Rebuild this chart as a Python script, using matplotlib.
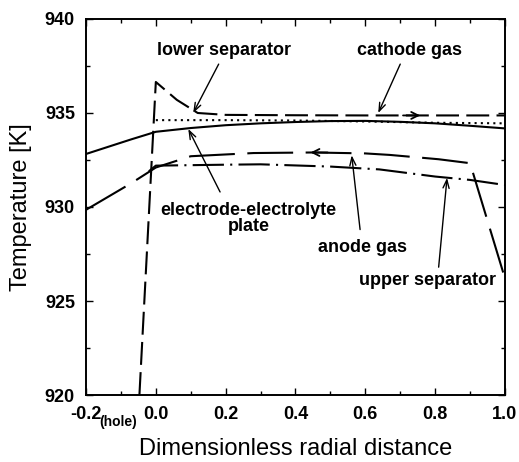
#!/usr/bin/env python3
"""Radial temperature profiles in the cell (layers and gas streams)."""

import matplotlib
matplotlib.use("Agg")
import matplotlib.pyplot as plt
from matplotlib.ticker import MultipleLocator

plt.rcParams["font.family"] = ["Liberation Sans", "DejaVu Sans"]

# --- data ------------------------------------------------------------------
cathode_x = [-0.047, 0.0, 0.06, 0.12, 0.2, 0.4, 0.6, 0.8, 1.0]
cathode_T = [920.0, 936.65, 935.7, 935.0, 934.9, 934.88, 934.87, 934.87, 934.87]

lower_sep_x = [0.0, 0.2, 0.4, 0.6, 0.8, 1.0]
lower_sep_T = [934.62, 934.62, 934.6, 934.55, 934.48, 934.45]

plate_x = [-0.2, -0.07, 0.0, 0.1, 0.2, 0.3, 0.4, 0.5, 0.6, 0.7, 0.8, 0.9, 1.0]
plate_T = [932.82, 933.6, 934.0, 934.2, 934.35, 934.45, 934.52, 934.57, 934.58,
           934.53, 934.45, 934.32, 934.18]

anode_x = [-0.2, -0.07, 0.0, 0.1, 0.28, 0.45, 0.6, 0.67, 0.81, 0.9, 1.0]
anode_T = [929.85, 931.27, 932.1, 932.7, 932.87, 932.9, 932.85, 932.77, 932.54,
           932.33, 926.2]

upper_sep_x = [-0.02, 0.0, 0.2, 0.3, 0.5, 0.64, 0.8, 0.9, 1.0]
upper_sep_T = [931.9, 932.2, 932.25, 932.27, 932.15, 932.0, 931.62, 931.44, 931.17]

x_ticks = [-0.2, 0.0, 0.2, 0.4, 0.6, 0.8, 1.0]
x_tick_labels = ["-0.2", "0.0", "0.2", "0.4", "0.6", "0.8", "1.0"]
y_ticks = [920, 925, 930, 935, 940]


def main():
    fig = plt.figure(figsize=(5.19, 4.62), dpi=100)
    ax = fig.add_axes([0.1657, 0.145, 0.8073, 0.8139])

    lw = 1.5
    ax.plot(cathode_x, cathode_T, color="black", lw=lw, dashes=(11, 3.5))
    ax.plot(lower_sep_x, lower_sep_T, color="black", lw=lw, dashes=(1, 2))
    ax.plot(plate_x, plate_T, color="black", lw=lw)
    ax.plot(anode_x, anode_T, color="black", lw=lw, dashes=(22, 6))
    ax.plot(upper_sep_x, upper_sep_T, color="black", lw=lw,
            dashes=(15, 3, 1, 3))

    # flow direction marks on the gas streams
    ax.annotate("", xy=(0.765, 934.87), xytext=(0.70, 934.87),
                arrowprops=dict(arrowstyle="->,head_length=0.5,head_width=0.25",
                                lw=1.3, color="black"))
    ax.annotate("", xy=(0.435, 932.9), xytext=(0.50, 932.9),
                arrowprops=dict(arrowstyle="->,head_length=0.5,head_width=0.25",
                                lw=1.3, color="black"))

    arrow = dict(arrowstyle="->,head_length=0.6,head_width=0.22",
                 lw=1.0, color="black", shrinkA=0, shrinkB=0)
    label_kw = dict(fontsize=13, fontweight="bold", ha="center", va="center")

    ax.text(0.195, 938.35, "lower separator", **label_kw)
    ax.annotate("", xy=(0.107, 935.0), xytext=(0.18, 937.6), arrowprops=arrow)

    ax.text(0.727, 938.35, "cathode gas", **label_kw)
    ax.annotate("", xy=(0.637, 935.0), xytext=(0.70, 937.6), arrowprops=arrow)

    ax.text(0.265, 929.4, "electrode-electrolyte\nplate", linespacing=0.95,
            **label_kw)
    ax.annotate("", xy=(0.093, 934.15), xytext=(0.184, 930.8), arrowprops=arrow)

    ax.text(0.592, 927.85, "anode gas", **label_kw)
    ax.annotate("", xy=(0.561, 932.75), xytext=(0.585, 928.8), arrowprops=arrow)

    ax.text(0.778, 926.1, "upper separator", **label_kw)
    ax.annotate("", xy=(0.834, 931.55), xytext=(0.81, 926.8), arrowprops=arrow)

    ax.set_xlim(-0.2, 1.0)
    ax.set_ylim(920, 940)
    ax.set_xticks(x_ticks)
    ax.set_xticklabels(x_tick_labels)
    ax.set_yticks(y_ticks)
    ax.xaxis.set_minor_locator(MultipleLocator(0.1))
    ax.yaxis.set_minor_locator(MultipleLocator(2.5))
    ax.tick_params(which="both", direction="in", top=True, right=True,
                   width=1.0, labelsize=13, pad=8)
    ax.tick_params(which="major", length=5)
    ax.tick_params(which="minor", length=3)
    for lab in ax.get_xticklabels() + ax.get_yticklabels():
        lab.set_fontweight("bold")
    for sp in ax.spines.values():
        sp.set_linewidth(1.4)

    ax.text(-0.108, 918.95, "(hole)", fontsize=10, fontweight="bold",
            ha="center", va="top")

    ax.set_xlabel("Dimensionless radial distance", fontsize=17, labelpad=11)
    ax.set_ylabel("Temperature [K]", fontsize=17, labelpad=9)

    fig.savefig("out.png", dpi=100)
    plt.close(fig)


if __name__ == "__main__":
    main()
